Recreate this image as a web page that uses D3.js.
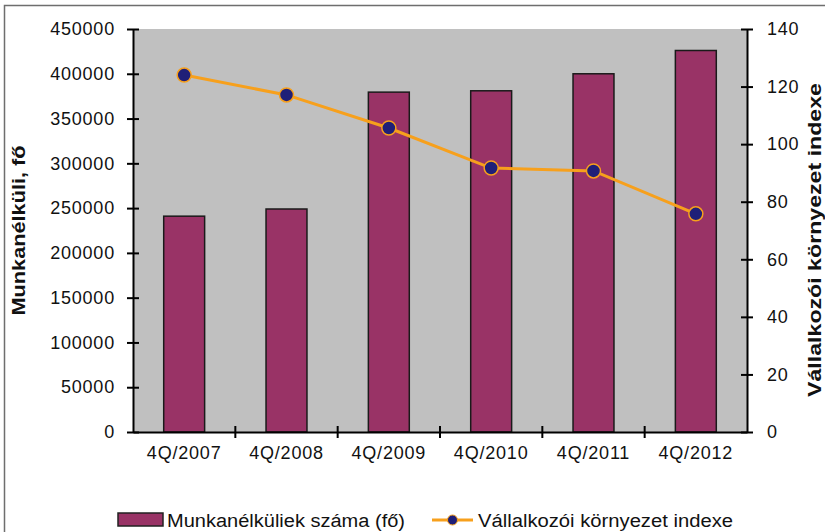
<!DOCTYPE html>
<html>
<head>
<meta charset="utf-8">
<script src="https://cdn.jsdelivr.net/npm/d3@7"></script>
<style>
  body { margin: 0; background: #fff; }
  svg text { font-family: "Liberation Sans", Arial, sans-serif; fill: #111; }
  .axis path, .axis line { stroke: #000; stroke-width: 2; }
  .axis text { font-size: 18px; letter-spacing: 0.8px; }
  .title { font-size: 18px; font-weight: bold; }
  .legend { font-size: 18px; }
</style>
</head>
<body>
<div id="chart"></div>
<script>

// chart values
var quarters = ["4Q/2007", "4Q/2008", "4Q/2009", "4Q/2010", "4Q/2011", "4Q/2012"];
var unemployed = [241000, 249000, 379500, 381000, 400000, 426000];
var businessIndex = [124.0, 117.1, 105.6, 91.7, 90.7, 75.8];
var leftTicks = [0, 50000, 100000, 150000, 200000, 250000, 300000, 350000, 400000, 450000];
var rightTicks = [0, 20, 40, 60, 80, 100, 120, 140];

var params = {
    width: 614,
    height: 403,
    margin_left: 133,
    margin_top: 29,
    bar_color: "#993366",
    line_color: "#f7a01c",
    dot_color: "#1f1f78",
    plot_bg: "#c0c0c0"
};

var svg = d3.select("#chart")
            .append("svg")
            .attr("width", 825)
            .attr("height", 532);

// outer frame (runs off the right / bottom edge like the scan)
svg.append("rect")
    .attr("x", 4.5)
    .attr("y", 5.5)
    .attr("width", 900)
    .attr("height", 600)
    .attr("fill", "none")
    .attr("stroke", "#6e6e6e")
    .attr("stroke-width", 1.5);

var g = svg.append("g")
           .attr("transform", "translate(" + params.margin_left + "," + params.margin_top + ")");

// scales
var x = d3.scaleBand()
          .domain(quarters)
          .range([0, params.width])
          .paddingInner(0.6)
          .paddingOuter(0.3);

var yLeft = d3.scaleLinear().domain([0, 450000]).range([params.height, 0]);
var yRight = d3.scaleLinear().domain([0, 140]).range([params.height, 0]);

// plot area
g.append("rect")
    .attr("width", params.width)
    .attr("height", params.height)
    .attr("fill", params.plot_bg);

// bars
g.selectAll(".bar")
    .data(unemployed).enter()
    .append("rect")
        .attr("class", "bar")
        .attr("x", function(d, i) { return x(quarters[i]); })
        .attr("y", function(d) { return yLeft(d); })
        .attr("width", x.bandwidth())
        .attr("height", function(d) { return params.height - yLeft(d); })
        .attr("fill", params.bar_color)
        .attr("stroke", "#1a1a1a")
        .attr("stroke-width", 1.5);

// left axis
var left_axis = d3.axisLeft(yLeft)
                  .tickValues(leftTicks)
                  .tickFormat(d3.format("d"))
                  .tickSizeInner(6)
                  .tickSizeOuter(0)
                  .tickPadding(12);

var la = g.append("g")
    .attr("class", "axis")
    .call(left_axis);
la.selectAll(".tick line").attr("x1", 6);

// right axis
var right_axis = d3.axisRight(yRight)
                   .tickValues(rightTicks)
                   .tickSizeInner(6)
                   .tickSizeOuter(0)
                   .tickPadding(14);

var ra = g.append("g")
    .attr("class", "axis")
    .attr("transform", "translate(" + params.width + ",0)")
    .call(right_axis);
ra.selectAll(".tick line").attr("x1", -6);

// bottom axis (labels at centres, ticks between categories)
var x_axis = d3.axisBottom(x).tickSize(0).tickSizeOuter(0).tickPadding(14);

var xa = g.append("g")
    .attr("class", "axis")
    .attr("transform", "translate(0," + params.height + ")")
    .call(x_axis);

xa.selectAll(".sep")
    .data(d3.range(1, quarters.length)).enter()
    .append("line")
        .attr("class", "sep")
        .attr("x1", function(i) { return i * x.step(); })
        .attr("x2", function(i) { return i * x.step(); })
        .attr("y1", -6)
        .attr("y2", 6);

// index line
var line = d3.line()
             .x(function(d, i) { return x(quarters[i]) + x.bandwidth() / 2; })
             .y(function(d) { return yRight(d); });

g.append("path")
    .datum(businessIndex)
    .attr("d", line)
    .attr("fill", "none")
    .attr("stroke", params.line_color)
    .attr("stroke-width", 3);

g.selectAll(".dot")
    .data(businessIndex).enter()
    .append("circle")
        .attr("class", "dot")
        .attr("cx", function(d, i) { return x(quarters[i]) + x.bandwidth() / 2; })
        .attr("cy", function(d) { return yRight(d); })
        .attr("r", 7)
        .attr("fill", params.dot_color)
        .attr("stroke", params.line_color)
        .attr("stroke-width", 1.5);

// axis titles
svg.append("text")
    .attr("class", "title")
    .attr("transform", "translate(25," + (params.margin_top + params.height * 0.5) + ") rotate(-90)")
    .attr("text-anchor", "middle")
    .attr("textLength", 170)
    .attr("lengthAdjust", "spacingAndGlyphs")
    .text("Munkanélküli, fő");

svg.append("text")
    .attr("class", "title")
    .attr("transform", "translate(821,240) rotate(-90)")
    .attr("text-anchor", "middle")
    .attr("textLength", 314)
    .attr("lengthAdjust", "spacingAndGlyphs")
    .text("Vállalkozói környezet indexe");

// legend
var legend = svg.append("g").attr("class", "legendbox");

legend.append("rect")
    .attr("x", 118)
    .attr("y", 513)
    .attr("width", 45)
    .attr("height", 13)
    .attr("fill", params.bar_color)
    .attr("stroke", "#222")
    .attr("stroke-width", 1.5);

legend.append("text")
    .attr("class", "legend")
    .attr("x", 167)
    .attr("y", 527)
    .attr("textLength", 238)
    .attr("lengthAdjust", "spacingAndGlyphs")
    .text("Munkanélküliek száma (fő)");

legend.append("line")
    .attr("x1", 432)
    .attr("x2", 473)
    .attr("y1", 520)
    .attr("y2", 520)
    .attr("stroke", params.line_color)
    .attr("stroke-width", 3);

legend.append("circle")
    .attr("cx", 452.5)
    .attr("cy", 520)
    .attr("r", 5)
    .attr("fill", params.dot_color)
    .attr("stroke", params.line_color)
    .attr("stroke-width", 1);

legend.append("text")
    .attr("class", "legend")
    .attr("x", 478)
    .attr("y", 527)
    .attr("textLength", 255)
    .attr("lengthAdjust", "spacingAndGlyphs")
    .text("Vállalkozói környezet indexe");

</script>
</body>
</html>
